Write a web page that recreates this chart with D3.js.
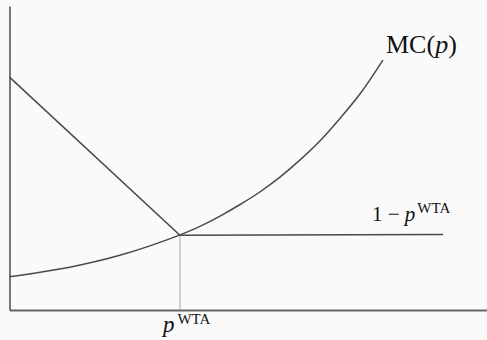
<!DOCTYPE html>
<html>
<head>
<meta charset="utf-8">
<script src="https://cdn.jsdelivr.net/npm/d3@7"></script>
<style>
  html, body { margin: 0; padding: 0; background: #fafafa; }
  svg { display: block; }
  text { font-family: "Liberation Serif", "DejaVu Serif", serif; fill: #111; }
</style>
</head>
<body>
<script>
// Price p on the horizontal axis, value on the vertical axis (both in [0, 1]).
const pWTA = 0.357;

// Marginal cost curve MC(p)
const mcP = [0, 0.064, 0.148, 0.231, 0.294, 0.357, 0.400, 0.441, 0.483, 0.525, 0.567, 0.608, 0.650, 0.692, 0.737, 0.782];
const mcV = [0.109, 0.124, 0.148, 0.180, 0.211, 0.247, 0.276, 0.309, 0.347, 0.389, 0.438, 0.493, 0.556, 0.630, 0.717, 0.822];

// Benefit curve: falls until p^WTA, then stays flat at 1 - p^WTA
const benP = [0, 0.357, 0.908];
const benV = [0.766, 0.246, 0.248];

const labels = { mc: "MC(", mcArg: "p", flat: "1 \u2212 ", wta: "WTA" };

const W = 487, H = 340;
const margin = { left: 9.5, top: 6, right: 0, bottom: 30 };

const x = d3.scaleLinear().domain([0, 1]).range([margin.left, W - margin.right]);
const y = d3.scaleLinear().domain([0, 1]).range([H - margin.bottom, margin.top]);

const svg = d3.select("body").append("svg").attr("width", W).attr("height", H);

// axes (lines only)
const xAxis = svg.append("g")
  .attr("transform", `translate(0,${y(0)})`)
  .call(d3.axisBottom(x).tickValues([]).tickSizeOuter(0));
xAxis.select(".domain").attr("stroke", "#666").attr("stroke-width", 2);

const yAxis = svg.append("g")
  .attr("transform", `translate(${x(0)},0)`)
  .call(d3.axisLeft(y).tickValues([]).tickSizeOuter(0));
yAxis.select(".domain").attr("stroke", "#333").attr("stroke-width", 1.3);

// guide from the crossing down to the axis
svg.append("line")
  .attr("x1", x(pWTA)).attr("x2", x(pWTA))
  .attr("y1", y(benV[1])).attr("y2", y(0))
  .attr("stroke", "#aaa").attr("stroke-width", 1);

const mcLine = d3.line().x(d => x(d[0])).y(d => y(d[1])).curve(d3.curveMonotoneX);
const benLine = d3.line().x(d => x(d[0])).y(d => y(d[1]));

svg.append("path")
  .datum(mcP.map((p, i) => [p, mcV[i]]))
  .attr("d", mcLine)
  .attr("fill", "none").attr("stroke", "#4a4a4a").attr("stroke-width", 1.5);

svg.append("path")
  .datum(benP.map((p, i) => [p, benV[i]]))
  .attr("d", benLine)
  .attr("fill", "none").attr("stroke", "#4a4a4a").attr("stroke-width", 1.5);

// MC(p) label
const t1 = svg.append("text").attr("x", 386).attr("y", 53).attr("font-size", 26);
t1.append("tspan").text(labels.mc);
t1.append("tspan").attr("font-style", "italic").text(labels.mcArg);
t1.append("tspan").text(")");

// 1 - p^WTA label
const t2 = svg.append("text").attr("x", 372).attr("y", 221).attr("font-size", 21);
t2.append("tspan").text(labels.flat);
t2.append("tspan").attr("font-style", "italic").text("p");
t2.append("tspan").attr("dx", 2).attr("dy", -8).attr("font-size", 15).text(labels.wta);

// p^WTA under the axis
const t3 = svg.append("text").attr("x", x(pWTA) - 17).attr("y", 332).attr("font-size", 23);
t3.append("tspan").attr("font-style", "italic").text("p");
t3.append("tspan").attr("dx", 3).attr("dy", -8).attr("font-size", 15).text(labels.wta);
</script>
</body>
</html>
